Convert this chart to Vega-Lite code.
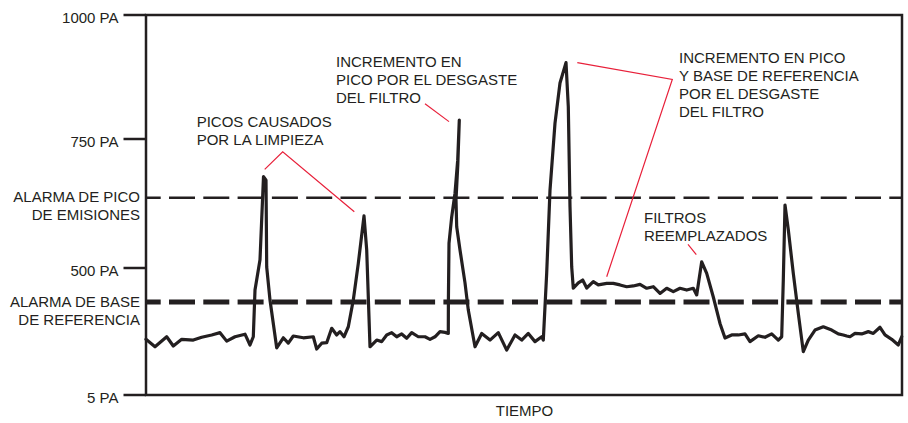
{
  "$schema": "https://vega.github.io/schema/vega-lite/v6.json",
  "width": 756,
  "height": 380,
  "autosize": {"type": "none"},
  "padding": {"left": 146, "top": 15, "right": 6, "bottom": 28},
  "background": "white",
  "config": {
    "font": "Liberation Sans",
    "view": {"stroke": "#231f20", "strokeWidth": 2.5},
    "axis": {"labelFont": "Liberation Sans", "titleFont": "Liberation Sans"}
  },
  "datasets": {
    "serie": [
      {"t":0,"pa":222},{"t":9,"pa":193},{"t":20.7,"pa":232},{"t":27.3,"pa":196},{"t":35.7,"pa":222},{"t":47.3,"pa":219},{"t":55.7,"pa":230},{"t":65.7,"pa":239},{"t":74,"pa":248},{"t":80.7,"pa":215},{"t":89,"pa":232},{"t":99,"pa":242},{"t":104,"pa":200},{"t":107.3,"pa":232},{"t":109,"pa":414},{"t":114,"pa":516},{"t":117.5,"pa":677},{"t":120,"pa":670},{"t":120.7,"pa":502},{"t":124,"pa":375},{"t":130.7,"pa":189},{"t":137.3,"pa":228},{"t":142.3,"pa":207},{"t":147.3,"pa":235},{"t":157.3,"pa":228},{"t":167.3,"pa":232},{"t":170.7,"pa":184},{"t":175.7,"pa":207},{"t":180.7,"pa":209},{"t":185.7,"pa":265},{"t":190.7,"pa":239},{"t":194,"pa":252},{"t":198,"pa":232},{"t":202.3,"pa":271},{"t":207.3,"pa":375},{"t":212.3,"pa":509},{"t":218,"pa":601},{"t":220.7,"pa":535},{"t":224,"pa":193},{"t":230.7,"pa":219},{"t":235.7,"pa":213},{"t":240.7,"pa":239},{"t":245.7,"pa":248},{"t":250.7,"pa":232},{"t":255.7,"pa":243},{"t":260.7,"pa":226},{"t":265.7,"pa":248},{"t":272.3,"pa":232},{"t":279,"pa":232},{"t":284,"pa":222},{"t":289,"pa":232},{"t":294,"pa":252},{"t":299,"pa":249},{"t":302.3,"pa":245},{"t":302.4,"pa":375},{"t":303,"pa":548},{"t":305.7,"pa":599},{"t":309,"pa":645},{"t":311.7,"pa":709},{"t":313.3,"pa":788},{"t":311.8,"pa":700},{"t":310,"pa":632},{"t":310.7,"pa":580},{"t":314,"pa":535},{"t":319,"pa":442},{"t":322.3,"pa":336},{"t":329,"pa":193},{"t":335.7,"pa":245},{"t":344,"pa":219},{"t":352.3,"pa":248},{"t":360.7,"pa":180},{"t":369,"pa":239},{"t":375.7,"pa":219},{"t":382.3,"pa":245},{"t":389,"pa":213},{"t":395.7,"pa":232},{"t":397.3,"pa":219},{"t":400.7,"pa":481},{"t":404,"pa":651},{"t":409,"pa":782},{"t":414,"pa":863},{"t":420,"pa":904},{"t":422.3,"pa":815},{"t":424,"pa":619},{"t":425.7,"pa":502},{"t":427.3,"pa":421},{"t":432.3,"pa":442},{"t":436.7,"pa":453},{"t":440.7,"pa":422},{"t":447.3,"pa":447},{"t":452.3,"pa":434},{"t":460.7,"pa":440},{"t":467.3,"pa":440},{"t":474,"pa":434},{"t":480.7,"pa":427},{"t":487.3,"pa":430},{"t":494,"pa":436},{"t":500.7,"pa":421},{"t":507.3,"pa":427},{"t":514,"pa":401},{"t":520.7,"pa":421},{"t":527.3,"pa":408},{"t":534,"pa":421},{"t":540.7,"pa":414},{"t":547.3,"pa":421},{"t":550.7,"pa":395},{"t":555.7,"pa":512},{"t":560.7,"pa":479},{"t":567.3,"pa":387},{"t":574,"pa":284},{"t":579,"pa":227},{"t":585.7,"pa":239},{"t":592.3,"pa":239},{"t":599,"pa":243},{"t":604,"pa":213},{"t":612.3,"pa":236},{"t":619,"pa":230},{"t":625.7,"pa":243},{"t":632.3,"pa":219},{"t":635.7,"pa":232},{"t":637.3,"pa":453},{"t":639,"pa":622},{"t":642.3,"pa":574},{"t":647.3,"pa":479},{"t":652.3,"pa":323},{"t":657.3,"pa":174},{"t":662.3,"pa":219},{"t":669,"pa":258},{"t":677.3,"pa":271},{"t":685.7,"pa":258},{"t":692.3,"pa":243},{"t":697.3,"pa":239},{"t":700.7,"pa":235},{"t":704,"pa":232},{"t":709,"pa":245},{"t":715.7,"pa":243},{"t":722.3,"pa":252},{"t":727.3,"pa":245},{"t":734,"pa":269},{"t":739,"pa":239},{"t":745.7,"pa":222},{"t":752.3,"pa":200},{"t":755.7,"pa":232}
    ],
    "marcas": [
      {"pa": 5, "t": -22.5}, {"pa": 5, "t": 0},
      {"pa": 500, "t": -22.5}, {"pa": 500, "t": 0},
      {"pa": 750, "t": -22.5}, {"pa": 750, "t": 0},
      {"pa": 1000, "t": -22.5}, {"pa": 1000, "t": 0}
    ],
    "alarmas": [
      {"tipo": "pico", "pa": 636, "texto": "ALARMA DE PICO\nDE EMISIONES"},
      {"tipo": "base", "pa": 367, "texto": "ALARMA DE BASE\nDE REFERENCIA"}
    ],
    "notas": [
      {"t": 50.7, "pa": 774, "texto": "PICOS CAUSADOS\nPOR LA LIMPIEZA"},
      {"t": 190, "pa": 896, "texto": "INCREMENTO EN\nPICO POR EL DESGASTE\nDEL FILTRO"},
      {"t": 533, "pa": 903, "texto": "INCREMENTO EN PICO\nY BASE DE REFERENCIA\nPOR EL DESGASTE\nDEL FILTRO"},
      {"t": 498, "pa": 587, "texto": "FILTROS\nREEMPLAZADOS"}
    ],
    "guias": [
      {"id": "A", "t": 118.7, "pa": 691}, {"id": "A", "t": 136.7, "pa": 725}, {"id": "A", "t": 208.3, "pa": 609},
      {"id": "B", "t": 279, "pa": 821}, {"id": "B", "t": 303, "pa": 785},
      {"id": "C", "t": 431.3, "pa": 904}, {"id": "C", "t": 526.3, "pa": 870}, {"id": "C", "t": 460.7, "pa": 466},
      {"id": "D", "t": 542, "pa": 546}, {"id": "D", "t": 550.3, "pa": 526}
    ]
  },
  "encoding": {
    "y": {"field": "pa", "type": "quantitative",
          "scale": {"domain": [5, 500, 750, 1000], "range": [380, 253, 124, 0], "nice": false, "zero": false},
          "axis": {"title": null, "values": [5, 500, 750, 1000], "labelExpr": "datum.value + ' PA'",
                   "ticks": false, "domain": false, "grid": false,
                   "labelFontSize": 15, "labelColor": "#231f20", "labelPadding": 28, "labelBaseline": "middle", "labelOffset": 2}}
  },
  "layer": [
    {
      "data": {"name": "marcas"},
      "mark": {"type": "line", "stroke": "#231f20", "strokeWidth": 2.5, "clip": false},
      "encoding": {
        "x": {"field": "t", "type": "quantitative", "scale": {"domain": [0, 756], "nice": false, "zero": false}},
        "detail": {"field": "pa"},
        "order": {"value": null}
      }
    },
    {
      "data": {"name": "alarmas"},
      "transform": [{"filter": "datum.tipo === 'pico'"}],
      "mark": {"type": "rule", "stroke": "#231f20", "strokeWidth": 2.6, "strokeDash": [26, 8.3], "strokeDashOffset": 13.3}
    },
    {
      "data": {"name": "alarmas"},
      "transform": [{"filter": "datum.tipo === 'base'"}],
      "mark": {"type": "rule", "stroke": "#231f20", "strokeWidth": 5, "strokeDash": [26, 8.3], "strokeDashOffset": 13.3}
    },
    {
      "data": {"name": "alarmas"},
      "mark": {"type": "text", "align": "right", "baseline": "alphabetic", "dx": -6, "dy": 4.5, "fontSize": 15, "lineHeight": 18, "lineBreak": "\n", "color": "#231f20"},
      "encoding": {
        "x": {"datum": 0, "type": "quantitative"},
        "text": {"field": "texto"}
      }
    },
    {
      "data": {"name": "guias"},
      "mark": {"type": "line", "stroke": "#e8203a", "strokeWidth": 1.2},
      "encoding": {
        "x": {"field": "t", "type": "quantitative"},
        "detail": {"field": "id"},
        "order": {"value": null}
      }
    },
    {
      "data": {"name": "notas"},
      "mark": {"type": "text", "align": "left", "baseline": "alphabetic", "fontSize": 15, "lineHeight": 18, "lineBreak": "\n", "color": "#231f20"},
      "encoding": {
        "x": {"field": "t", "type": "quantitative"},
        "text": {"field": "texto"}
      }
    },
    {
      "data": {"name": "serie"},
      "mark": {"type": "line", "stroke": "#231f20", "strokeWidth": 3.2, "strokeJoin": "round", "strokeCap": "round"},
      "encoding": {
        "x": {"field": "t", "type": "quantitative",
              "axis": {"title": "TIEMPO", "labels": false, "ticks": false, "domain": false, "grid": false,
                       "titleFontSize": 15, "titleFontWeight": "normal", "titleColor": "#231f20", "titlePadding": 8}},
        "order": {"value": null}
      }
    }
  ]
}
